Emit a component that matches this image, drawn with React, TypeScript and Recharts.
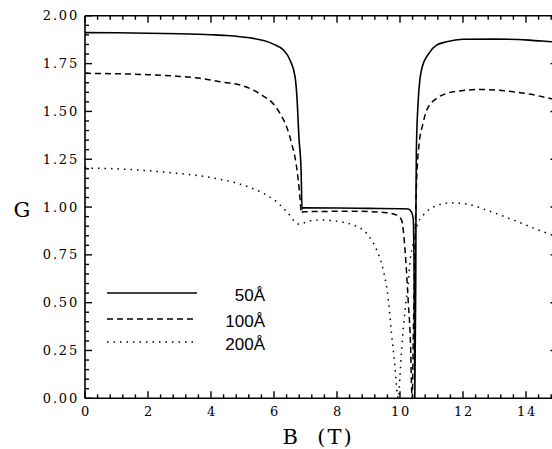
import React from "react";
import { LineChart, Line, XAxis, YAxis } from "recharts";

// B (T) and G for each well width
const B_50 = [0, 1, 2, 3, 4, 4.5, 5, 5.34, 5.7, 5.98, 6.3, 6.51, 6.67, 6.74, 6.79, 6.86, 6.89, 6.92, 8, 9, 10, 10.26, 10.36, 10.42, 10.45, 10.47, 10.5, 10.51, 10.52, 10.58, 10.68, 10.9, 11.16, 11.48, 12, 13.06, 14.1, 14.82, 15];
const G_50 = [1.912, 1.911, 1.909, 1.906, 1.901, 1.897, 1.889, 1.882, 1.869, 1.852, 1.821, 1.768, 1.681, 1.542, 1.367, 1.193, 0.99, 0.996, 0.995, 0.993, 0.991, 0.99, 0.975, 0.94, 0.6, 0, 0.6, 1.1, 1.3, 1.56, 1.716, 1.8, 1.847, 1.864, 1.877, 1.878, 1.873, 1.864, 1.862];

const B_100 = [0, 1, 2, 3, 3.65, 4.29, 4.92, 5.34, 5.66, 5.92, 6.19, 6.4, 6.56, 6.7, 6.77, 6.83, 6.87, 6.92, 7.5, 8.5, 9.5, 9.9, 10.05, 10.16, 10.26, 10.34, 10.37, 10.39, 10.42, 10.47, 10.52, 10.6, 10.72, 10.85, 11.16, 11.48, 12, 12.54, 13, 13.59, 14.2, 14.76, 15];
const G_100 = [1.699, 1.697, 1.692, 1.683, 1.673, 1.655, 1.638, 1.612, 1.58, 1.55, 1.49, 1.42, 1.333, 1.228, 1.141, 1.037, 0.967, 0.975, 0.977, 0.978, 0.972, 0.958, 0.932, 0.775, 0.51, 0.25, 0.04, 0, 0.3, 0.75, 1.1, 1.32, 1.43, 1.507, 1.568, 1.594, 1.609, 1.615, 1.612, 1.603, 1.588, 1.568, 1.56];

const B_200 = [0, 1, 2, 3, 3.65, 4.29, 4.92, 5.56, 6.08, 6.45, 6.72, 6.8, 7.14, 7.5, 7.88, 8.2, 8.52, 8.94, 9.26, 9.47, 9.63, 9.73, 9.84, 9.9, 9.95, 10, 10.05, 10.16, 10.26, 10.32, 10.42, 10.53, 10.74, 11.06, 11.59, 12.11, 12.75, 13.6, 14.83, 15];
const G_200 = [1.204, 1.2, 1.19, 1.175, 1.163, 1.145, 1.12, 1.08, 1.028, 0.967, 0.915, 0.91, 0.928, 0.932, 0.928, 0.92, 0.906, 0.862, 0.775, 0.67, 0.514, 0.34, 0.165, 0.043, 0, 0.12, 0.25, 0.46, 0.6, 0.72, 0.81, 0.897, 0.958, 1.0, 1.022, 1.016, 0.984, 0.932, 0.854, 0.845];

const X_MAJOR = [0, 2, 4, 6, 8, 10, 12, 14];
const Y_MAJOR = [0, 0.25, 0.5, 0.75, 1, 1.25, 1.5, 1.75, 2];
const LEGEND_LABELS = ["50Å", "100Å", "200Å"];

// minor ticks every 0.4 T and every 0.05 in G
const xTicks = Array.from({ length: 38 }, (_, i) => Math.round(i * 0.4 * 100) / 100);
const yTicks = Array.from({ length: 41 }, (_, i) => Math.round(i * 0.05 * 100) / 100);

const toRows = (bs: number[], gs: number[]) => bs.map((b, i) => ({ b, g: gs[i] }));
const d50 = toRows(B_50, G_50);
const d100 = toRows(B_100, G_100);
const d200 = toRows(B_200, G_200);

const isMajor = (list: number[], v: number) => list.some((m) => Math.abs(m - v) < 1e-6);

const tickFont = {
  fontFamily: "DejaVu Serif",
  fontSize: 13,
  letterSpacing: 1.8,
};

const TICK_W = 1.4;

const BottomTick = (props: any) => {
  const { x, y, payload } = props;
  const major = isMajor(X_MAJOR, payload.value);
  return (
    <g>
      <path d={`M${x},${y}v${major ? -7 : -4}`} stroke="#000" strokeWidth={TICK_W} fill="none" />
      {major && (
        <text x={x + 1} y={y + 18} textAnchor="middle" fill="#000" style={tickFont}>
          {payload.value}
        </text>
      )}
    </g>
  );
};

const TopTick = (props: any) => {
  const { x, y, payload } = props;
  const major = isMajor(X_MAJOR, payload.value);
  return <path d={`M${x},${y}v${major ? 7 : 4}`} stroke="#000" strokeWidth={TICK_W} fill="none" />;
};

const LeftTick = (props: any) => {
  const { x, y, payload } = props;
  const major = isMajor(Y_MAJOR, payload.value);
  return (
    <g>
      <path d={`M${x},${y}h${major ? 7 : 4}`} stroke="#000" strokeWidth={TICK_W} fill="none" />
      {major && (
        <text x={x - 6} y={y + 4.5} textAnchor="end" fill="#000" style={tickFont}>
          {payload.value.toFixed(2)}
        </text>
      )}
    </g>
  );
};

const RightTick = (props: any) => {
  const { x, y, payload } = props;
  const major = isMajor(Y_MAJOR, payload.value);
  return <path d={`M${x},${y}h${major ? -7 : -4}`} stroke="#000" strokeWidth={TICK_W} fill="none" />;
};

const axisLine = { stroke: "#000", strokeWidth: 1.6 };

const legendRows = [
  { label: LEGEND_LABELS[0], dash: undefined, y: 293 },
  { label: LEGEND_LABELS[1], dash: "6 4", y: 319 },
  { label: LEGEND_LABELS[2], dash: "1.5 5", y: 342 },
];

const App = () => {
  return (
    <div
      style={{
        position: "absolute",
        left: 0,
        top: 0,
        width: 552,
        height: 449,
        overflow: "hidden",
        background: "#fff",
      }}
    >
      <LineChart width={565} height={449} margin={{ top: 14.8, right: 6.5, bottom: 20.7, left: 25 }}>
        <XAxis
          xAxisId="bottom"
          dataKey="b"
          type="number"
          domain={[0, 15]}
          ticks={xTicks}
          interval={0}
          allowDataOverflow
          height={30}
          tickSize={0}
          tickMargin={0}
          axisLine={axisLine}
          tickLine={false}
          tick={BottomTick}
        />
        <XAxis
          xAxisId="top"
          orientation="top"
          dataKey="b"
          type="number"
          domain={[0, 15]}
          ticks={xTicks}
          interval={0}
          allowDataOverflow
          height={1}
          tickSize={0}
          tickMargin={0}
          axisLine={axisLine}
          tickLine={false}
          tick={TopTick}
        />
        <YAxis
          yAxisId="left"
          type="number"
          domain={[0, 2]}
          ticks={yTicks}
          interval={0}
          allowDataOverflow
          width={60}
          tickSize={0}
          tickMargin={0}
          axisLine={axisLine}
          tickLine={false}
          tick={LeftTick}
        />
        <YAxis
          yAxisId="right"
          orientation="right"
          type="number"
          domain={[0, 2]}
          ticks={yTicks}
          interval={0}
          allowDataOverflow
          width={1}
          tickSize={0}
          tickMargin={0}
          axisLine={axisLine}
          tickLine={false}
          tick={RightTick}
        />
        <Line data={d50} dataKey="g" xAxisId="bottom" yAxisId="left" type="monotone" stroke="#000" strokeWidth={1.6} dot={false} isAnimationActive={false} />
        <Line data={d100} dataKey="g" xAxisId="bottom" yAxisId="left" type="monotone" stroke="#000" strokeWidth={1.5} strokeDasharray="6 4" dot={false} isAnimationActive={false} />
        <Line data={d200} dataKey="g" xAxisId="bottom" yAxisId="left" type="monotone" stroke="#000" strokeWidth={1.5} strokeDasharray="1.5 5" dot={false} isAnimationActive={false} />
      </LineChart>

      <svg width={552} height={449} style={{ position: "absolute", left: 0, top: 0, pointerEvents: "none" }}>
        {legendRows.map((r) => (
          <g key={r.label}>
            <line x1={107} y1={r.y} x2={197} y2={r.y} stroke="#000" strokeWidth={1.5} strokeDasharray={r.dash} />
            <text x={265} y={r.y + 8} textAnchor="end" fontFamily="Liberation Sans" fontSize={17} fill="#000">
              {r.label}
            </text>
          </g>
        ))}
        <text x={22} y={217} textAnchor="middle" fontFamily="DejaVu Serif" fontSize={21} fill="#000">
          G
        </text>
        <text x={318} y={444} textAnchor="middle" fontFamily="DejaVu Serif" fontSize={21} letterSpacing={2} fill="#000" xmlSpace="preserve">
          B  (T)
        </text>
      </svg>
    </div>
  );
};

export default App;
